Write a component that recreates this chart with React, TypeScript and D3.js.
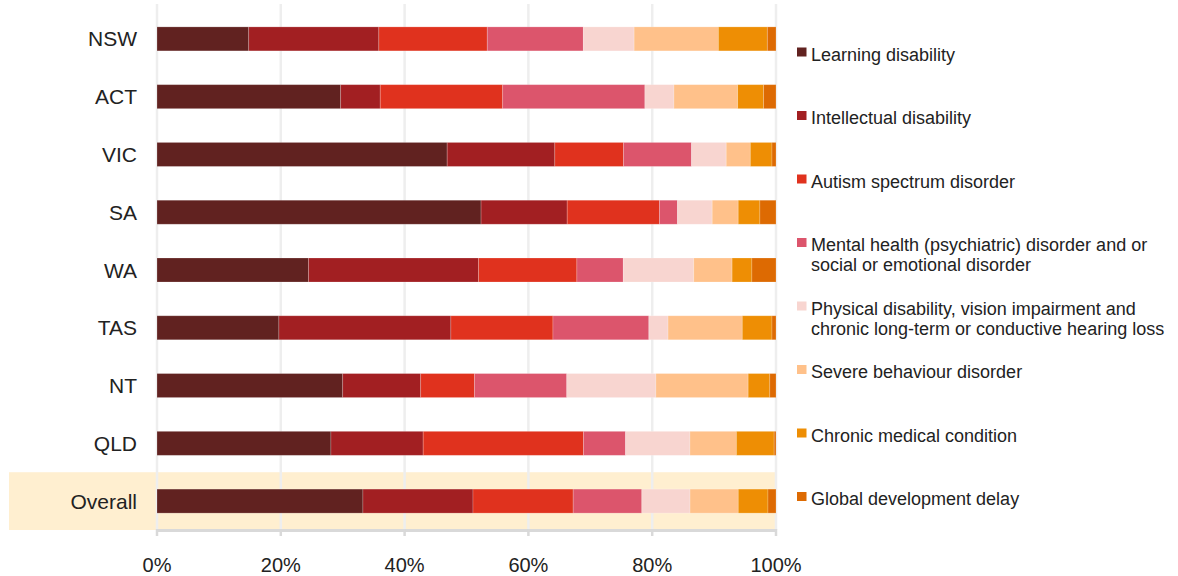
import React from "react";
import * as d3 from "d3";

const categories = ["NSW", "ACT", "VIC", "SA", "WA", "TAS", "NT", "QLD", "Overall"];
const seriesNames = [
  "Learning disability",
  "Intellectual disability",
  "Autism spectrum disorder",
  "Mental health (psychiatric) disorder and or|social or emotional disorder",
  "Physical disability, vision impairment and|chronic long-term or conductive hearing loss",
  "Severe behaviour disorder",
  "Chronic medical condition",
  "Global development delay",
];
const seriesColors = ["#612220", "#A21F22", "#E0321E", "#DC556C", "#F8D5D0", "#FFC18A", "#EE8E04", "#DD6A02"];

const learning = [14.8, 29.7, 46.9, 52.3, 24.5, 19.7, 30.0, 28.1, 33.3];
const intellectual = [21.0, 6.4, 17.4, 13.9, 27.5, 27.8, 12.6, 14.9, 17.8];
const autism = [17.5, 19.8, 11.1, 14.9, 15.9, 16.5, 8.7, 25.9, 16.2];
const mental = [15.5, 23.0, 11.0, 2.9, 7.5, 15.5, 14.9, 6.8, 11.1];
const physical = [8.2, 4.7, 5.6, 5.6, 11.4, 3.1, 14.4, 10.4, 7.8];
const severe = [13.6, 10.3, 3.9, 4.2, 6.2, 12.0, 14.9, 7.5, 7.8];
const chronic = [7.9, 4.2, 3.5, 3.5, 3.2, 4.8, 3.5, 6.1, 4.8];
const globalDelay = [1.4, 2.0, 0.65, 2.6, 3.9, 0.65, 1.0, 0.3, 1.3];
const xTicks = [0, 0.2, 0.4, 0.6, 0.8, 1];

const seriesValues = [learning, intellectual, autism, mental, physical, severe, chronic, globalDelay];

export default function App() {
  const W = 1178, H = 576;
  const font = "'Liberation Sans', Arial, sans-serif";
  const x = d3.scaleLinear().domain([0, 1]).range([157, 776]);
  const y = d3.scaleBand<string>().domain(categories).range([10, 530]).padding(0);
  const barH = 24;

  const rows = categories.map((c, i) => {
    const o: any = { cat: c };
    seriesValues.forEach((s, k) => (o["s" + k] = s[i]));
    return o;
  });
  const keys = seriesValues.map((_, k) => "s" + k);
  const stacked = d3.stack<any>().keys(keys).offset(d3.stackOffsetExpand)(rows);

  const overallY = y("Overall")!;

  return (
    <svg width={W} height={H} style={{ position: "absolute", left: 0, top: 0, background: "#fff" }}>
      {/* Overall highlight band */}
      <rect x={9} y={overallY} width={x(1) + 1 - 9} height={y.bandwidth()} fill="#FFEFD0" />
      {/* gridlines */}
      {xTicks.map((t) => (
        <line key={t} x1={x(t)} x2={x(t)} y1={4} y2={530} stroke="#EEEEEE" strokeWidth={2.5} />
      ))}
      {/* bars */}
      {stacked.map((layer, k) => (
        <g key={k} fill={seriesColors[k]}>
          {layer.map((d, i) => (
            <rect
              key={i}
              x={x(d[0])}
              width={Math.max(0, x(d[1]) - x(d[0]))}
              y={y(categories[i])! + (y.bandwidth() - barH) / 2}
              height={barH}
              stroke="rgba(255,255,255,0.25)"
              strokeWidth={0.8}
            />
          ))}
        </g>
      ))}
      {/* axis */}
      <line x1={x(0) - 1} x2={x(1) + 1} y1={530.5} y2={530.5} stroke="#D9D9D9" strokeWidth={3} />
      {xTicks.map((t) => (
        <line key={"t" + t} x1={x(t)} x2={x(t)} y1={529} y2={536} stroke="#D9D9D9" strokeWidth={2.5} />
      ))}
      {xTicks.map((t) => (
        <text key={"l" + t} x={x(t)} y={572} textAnchor="middle" fontFamily={font} fontSize={20} fill="#222">
          {d3.format(".0%")(t)}
        </text>
      ))}
      {/* category labels */}
      {categories.map((c) => (
        <text
          key={c}
          x={137}
          y={y(c)! + y.bandwidth() / 2 + 7.5}
          textAnchor="end"
          fontFamily={font}
          fontSize={21}
          fill="#222"
        >
          {c}
        </text>
      ))}
      {/* legend */}
      {seriesNames.map((n, k) => {
        const top = 47.5 + k * 63.5;
        const lines = n.split("|");
        return (
          <g key={n}>
            <rect x={797} y={top} width={9.5} height={9} fill={seriesColors[k]} />
            <text x={811} y={top + 13} fontFamily={font} fontSize={18} fill="#222">
              {lines.map((l, j) => (
                <tspan key={j} x={811} dy={j === 0 ? 0 : 20}>
                  {l}
                </tspan>
              ))}
            </text>
          </g>
        );
      })}
    </svg>
  );
}
